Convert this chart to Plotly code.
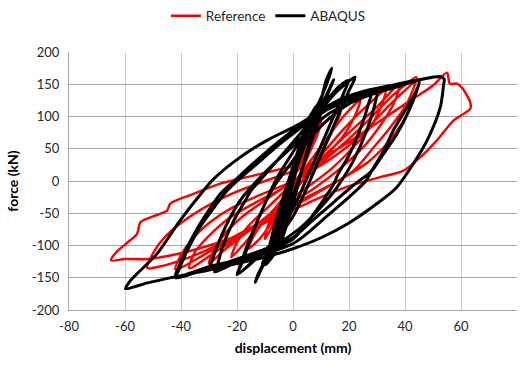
import plotly.graph_objects as go

# ---------------- data ----------------
ref_x = [0, 4, 8, 10,
         9, 6, 3, 0, -4, -8, -10,
         -9, -6, -2, 2, 6, 10, 14, 17,
         15.5, 12, 8, 4, 0, -6, -12, -16,
         -14, -10, -5, 0, 6, 12, 18, 24,
         22, 18, 12, 7, 0, -8, -16, -22,
         -20, -16, -10, -4, 3, 10, 18, 26, 33,
         31, 27, 21, 14, 5, -5, -15, -24, -30,
         -28, -24, -18, -10, 0, 10, 20, 30, 38,
         36, 31, 25, 17, 8, -3, -15, -27, -37,
         -35, -30, -23, -14, -4, 6, 16, 26, 35, 44,
         40.7, 34.7, 28.8, 21.6, 10, 0, -15, -30, -42,
         -40, -36, -30, -22, -12, 0, 12, 24, 35, 45,
         43, 39, 34, 27, 18, 5, -10, -25, -38, -48, -52,
         -50, -46, -40, -32, -22, -10, 4, 18, 30, 42, 50, 55,
         56, 58.5, 60.3, 63.3, 63.3, 57.4, 51.4, 45.5, 39.5, 31.2,
         20, 10, 0, -10, -20, -30, -40, -52, -60, -65,
         -63, -59, -55.7, -54.5, -50, -45, -43.8, -35.5, -26, -16.4, -6.9, 3]
ref_y = [0, 45, 80, 95,
         75, 45, 15, -15, -45, -75, -90,
         -70, -45, -15, 20, 55, 85, 100, 108,
         90, 60, 30, 5, -20, -55, -90, -105,
         -85, -60, -35, -5, 30, 65, 100, 125,
         100, 70, 40, 15, -15, -50, -90, -118,
         -95, -70, -45, -20, 10, 40, 80, 115, 140,
         110, 80, 50, 20, -10, -40, -75, -105, -128,
         -105, -80, -55, -30, 0, 35, 75, 115, 150,
         120, 85, 52, 20, -10, -40, -75, -108, -135,
         -110, -85, -58, -35, -12, 15, 50, 90, 130, 161,
         120, 83, 52, 16, -15, -40, -75, -110, -137,
         -115, -90, -65, -42, -22, 0, 30, 70, 120, 157,
         125, 90, 60, 30, 5, -25, -60, -95, -120, -133, -135,
         -112, -88, -65, -42, -20, 0, 22, 55, 90, 125, 148, 168,
         151, 151, 145, 122, 112, 94, 63, 37, 16, 6,
         -8, -25, -45, -65, -85, -100, -112, -121, -121, -123,
         -110, -95, -82, -64, -55, -46, -35, -20, -4, 6, 16, 25]

aba_x = [0, 3, 5, 6, 5, 1, -3, -5, -6, -5, -1, 3, 6, 8, 7, 2, -2, -6, -8, -7, -3, 1, 5, 9,
         8, 4, 0, -4, -8, -10, -9, -5, -1, 3, 7, 10, 9, 5, 1, -3, -7, -10, -9, -6, -2, 2, 6, 9,
         12, 13.9, 12, 10, 6, 2, -2, -6, -10, -13.5,
         -12, -9, -5, -1, 3, 7, 11, 14.5,
         12, 8, 3, -2, -7, -11,
         -9, -6, -2, 2, 6, 10, 16, 19.8,
         18, 14, 10, 6, 2, -2, -7, -13, -19.5,
         -18, -15, -11, -8, -5, 0, 5, 10, 16, 22.2,
         20, 16, 12, 8, 4, 0, -5, -12, -20,
         -18.5, -16, -13, -10, -7, -2, 4, 10, 16, 22, 28,
         27, 24, 20, 16, 14.5, 10, 5, 0, -10, -20, -28,
         -27, -25, -21, -17, -15, -12, -6, 0, 6, 12, 20, 28, 30,
         29, 26, 22, 18, 14, 8, 2, -6, -16, -24, -30,
         -29, -27, -24, -21, -18, -14, -8, -1, 6, 13, 22, 30, 38, 45,
         44, 40.7, 36, 32.4, 28, 26, 20, 12, 4, 0, -8, -20, -30, -42,
         -41, -38, -33, -28, -23.6, -20, -12, -4, 5, 12, 20, 30, 40, 45,
         44, 41.5, 37, 32, 28, 22, 14, 6, 0, -8, -18, -30, -42,
         -41, -38, -34, -30, -26, -21, -14, -6, 3, 11, 19, 28, 37, 45, 52.6,
         54, 53.8, 52.6, 47.9, 43, 37, 30, 20, 10, 0, -10, -20, -30, -42.6, -52, -59.8,
         -59, -56.9, -48.6, -40.3, -32, -28.4, -18.8, -9.3, 2.6, 10, 17, 26, 35, 44, 50]
aba_y = [0, 50, 90, 100, 85, 20, -50, -90, -100, -85, -20, 50, 95, 115, 100, 30, -30, -95, -115, -100, -40, 20, 80, 112,
         95, 30, -35, -90, -118, -128, -110, -55, 0, 50, 100, 125, 108, 45, -15, -70, -115, -130, -112, -60, -5, 50, 100, 120,
         150, 175, 158, 125, 60, 0, -50, -100, -125, -157,
         -140, -115, -60, 0, 50, 95, 125, 157,
         130, 80, 15, -45, -100, -128,
         -110, -75, -20, 30, 75, 110, 145, 156,
         135, 95, 55, 15, -25, -60, -95, -120, -143,
         -120, -85, -45, -15, 10, 45, 80, 110, 140, 161,
         140, 100, 60, 20, -20, -55, -85, -115, -145,
         -130, -100, -65, -35, -10, 20, 55, 85, 108, 125, 138,
         120, 80, 40, 10, -5, -35, -65, -90, -110, -125, -141,
         -130, -100, -60, -30, -15, 0, 30, 60, 90, 110, 125, 138, 140,
         115, 75, 35, 5, -20, -50, -75, -98, -115, -127, -138,
         -125, -100, -70, -45, -25, -5, 22, 50, 80, 105, 124, 137, 147, 155,
         140, 114, 80, 47, 15, 0, -25, -55, -85, -97, -110, -125, -135, -150,
         -140, -110, -70, -40, -15, 0, 30, 60, 90, 115, 130, 142, 150, 156,
         138, 110, 72, 40, 15, -5, -35, -65, -88, -105, -120, -133, -148,
         -135, -105, -72, -45, -20, 0, 28, 58, 88, 112, 128, 140, 150, 157, 162,
         158, 150, 114, 63, 27, -10, -35, -65, -88, -105, -118, -128, -138, -149, -158, -167,
         -160, -149, -113, -61, -15, 3, 37, 63, 89, 110, 127, 140, 148, 156, 161]

x_ticks = [-80, -60, -40, -20, 0, 20, 40, 60, 80]
y_ticks = [-200, -150, -100, -50, 0, 50, 100, 150, 200]

FONT = "Lato, Liberation Sans, Arial, sans-serif"

fig = go.Figure()
fig.add_trace(go.Scatter(x=ref_x, y=ref_y, mode="lines", name="Reference",
                         line=dict(color="#ff0000", width=2.5, shape="spline", smoothing=0.8)))
fig.add_trace(go.Scatter(x=aba_x, y=aba_y, mode="lines", name="ABAQUS",
                         line=dict(color="#000000", width=3, shape="spline", smoothing=0.8)))

fig.update_layout(
    width=520, height=372,
    margin=dict(l=69, r=3, t=52, b=62, autoexpand=False),
    paper_bgcolor="white", plot_bgcolor="white",
    font=dict(family=FONT, size=13, color="#262626"),
    showlegend=True,
    legend=dict(orientation="h", x=0.445, xanchor="center", y=1.14, yanchor="middle",
                font=dict(family=FONT, size=13.5, color="#262626"),
                itemwidth=30, tracegroupgap=0),
)
fig.update_xaxes(range=[-80, 80], tickvals=x_ticks, ticktext=[str(v) for v in x_ticks],
                 showgrid=True, gridcolor="#cfcfcf", gridwidth=1, automargin=False,
                 showline=True, linecolor="#a6a6a6", linewidth=1,
                 zeroline=False, ticks="", tickfont=dict(size=13), ticklabelstandoff=4,
                 title=dict(text="<b>displacement (mm)</b>", font=dict(size=14, color="#000000"), standoff=10))
fig.update_yaxes(range=[-200, 200], tickvals=y_ticks, ticktext=[str(v) for v in y_ticks],
                 showgrid=True, gridcolor="#a6a6a6", gridwidth=1, automargin=False,
                 showline=True, linecolor="#a6a6a6", linewidth=1,
                 zeroline=False, ticks="", tickfont=dict(size=13), ticklabelstandoff=6,
                 title=dict(text="<b>force (kN)</b>", font=dict(size=14, color="#000000"), standoff=10))

fig.write_html("out.html", config={"displayModeBar": False},
               post_script="document.body.style.margin='0px';document.body.style.overflow='hidden';")
